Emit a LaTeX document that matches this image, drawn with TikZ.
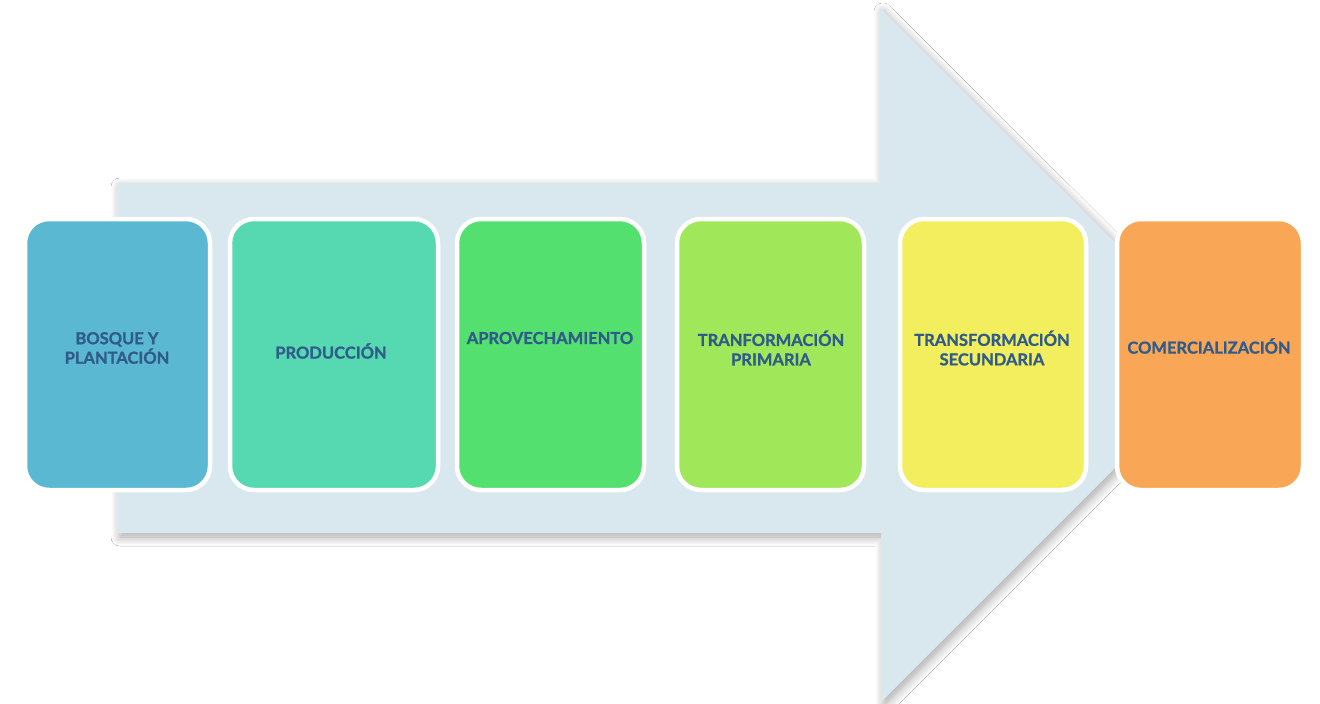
\documentclass[tikz,border=0pt]{standalone}
\usepackage{fontspec}
\setmainfont{Lato}[BoldFeatures={FakeBold=1.1}]
\usetikzlibrary{shadows.blur}
\definecolor{arrowfill}{HTML}{D9E7EF}
\definecolor{txt}{HTML}{2F5C8A}
\definecolor{c1}{HTML}{5AB8D2}
\definecolor{c2}{HTML}{56D8B1}
\definecolor{c3}{HTML}{53E06E}
\definecolor{c4}{HTML}{A0E85A}
\definecolor{c5}{HTML}{F2EE5E}
\definecolor{c6}{HTML}{F9A757}
\begin{document}
\begin{tikzpicture}[x=1pt,y=-1pt,
  stagebox/.style={rectangle, rounded corners=24pt, draw=white, line width=4.5pt,
    minimum height=271pt, inner sep=0pt},
  stagetext/.style={text=txt, font=\fontsize{16.5}{19.5}\selectfont\bfseries, align=center, inner sep=0pt}]
\useasboundingbox (0,0) rectangle (1320,704);
\fill[white] (0,0) rectangle (1320,704);
% big arrow
\path[fill=arrowfill, blur shadow={shadow xshift=3pt, shadow yshift=-4pt, shadow blur radius=9pt, shadow opacity=35, shadow blur steps=14}]
  (117,183) -- (880,183) -- (880,8) -- (1228,355) -- (881,702) -- (881,533) -- (117,533) -- cycle;
% boxes
\node[stagebox, fill=c1, minimum width=185pt] (b1) at (117.5,354.5) {};
\node[stagebox, fill=c2, minimum width=208pt] (b2) at (334,354.5) {};
\node[stagebox, fill=c3, minimum width=187pt] (b3) at (550.5,354.5) {};
\node[stagebox, fill=c4, minimum width=187pt] (b4) at (770.5,354.5) {};
\node[stagebox, fill=c5, minimum width=186pt] (b5) at (993,354.5) {};
\node[stagebox, fill=c6, minimum width=186pt] (b6) at (1210,354.5) {};
% labels
\node[stagetext] (t1) at (117,348) {BOSQUE Y\\PLANTACIÓN};
\node[stagetext] (t2) at (331,351) {PRODUCCIÓN};
\node[stagetext] (t3) at (550,338) {APROVECHAMIENTO};
\node[stagetext] (t4) at (771,348) {TRANFORMACIÓN\\PRIMARIA};
\node[stagetext] (t5) at (992,348) {TRANSFORMACIÓN\\SECUNDARIA};
\node[stagetext] (t6) at (1209,346) {COMERCIALIZACIÓN};
\end{tikzpicture}
\end{document}
